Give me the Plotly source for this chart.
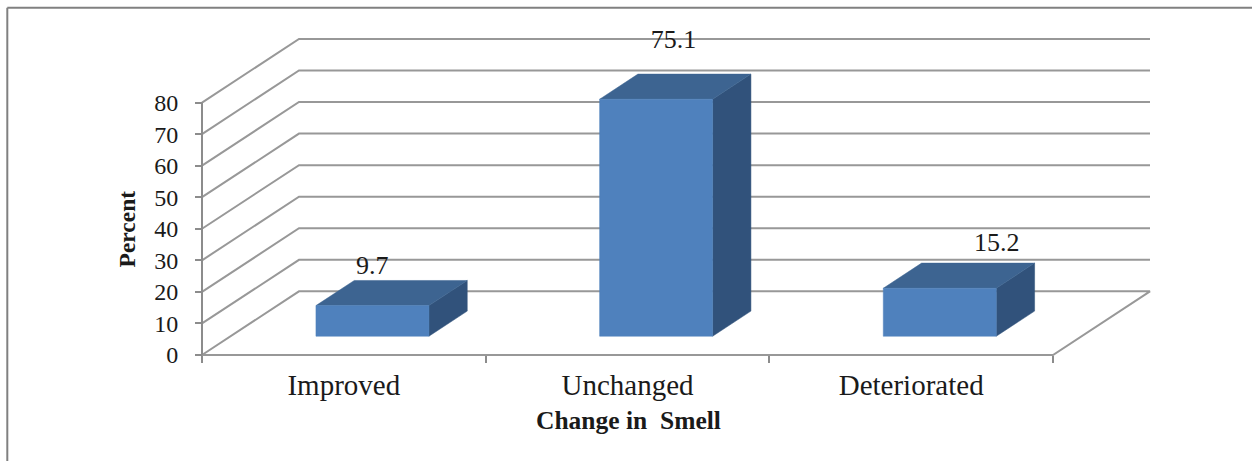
import plotly.graph_objects as go

# Data
CATEGORIES = ["Improved", "Unchanged", "Deteriorated"]
PERCENT = [9.7, 75.1, 15.2]
VALUE_LABELS = ["9.7", "75.1", "15.2"]
Y_TICKS = [0, 10, 20, 30, 40, 50, 60, 70, 80]
X_BOUNDARIES = [-0.5, 0.5, 1.5, 2.5]
X_TITLE = "Change in  Smell"
Y_TITLE = "Percent"

# Geometry of the pseudo-3D frame (layout, not data)
W, H = 1252, 461
AX_LEFT, AX_RIGHT = 201.7, 1052.7     # front floor edge, px
Y0_PX, Y80_PX = 354.6, 102.7          # value axis, px
DEPTH_PX = (97.0, 63.5)
PAD = 4.0
X_SCALE = (AX_RIGHT - AX_LEFT) / 3.0
Y_SCALE = (Y0_PX - Y80_PX) / 80.0
DX = DEPTH_PX[0] / X_SCALE
DY = DEPTH_PX[1] / Y_SCALE
BAR_W = 113.0 / X_SCALE
BAR_FRONT, BAR_BACK = 0.295, 0.69
LABEL_DX = [0.10, 0.162, 0.302]
LABEL_DY = [17.9, 24.3, 19.7]

GRID = "#989898"
AXIS = "#8c8c8c"
FRONT, TOP, SIDE = "#4F81BD", "#3D6491", "#31527B"
SERIF = "Liberation Serif, Times New Roman, serif"
TEXT = "#1a1a1a"

plot_l, plot_r = AX_LEFT - PAD, AX_RIGHT + DEPTH_PX[0] + PAD
plot_t, plot_b = 38.3 - PAD, Y0_PX + PAD
pw, ph = plot_r - plot_l, plot_b - plot_t


def project(x, y, depth):
    return x + depth * DX, y + depth * DY


def line(xs, ys, color=GRID, width=2.0):
    return go.Scatter(x=xs, y=ys, mode="lines", hoverinfo="skip", showlegend=False,
                      line=dict(color=color, width=width))


def face(points, color):
    xs = [p[0] for p in points] + [points[0][0]]
    ys = [p[1] for p in points] + [points[0][1]]
    return go.Scatter(x=xs, y=ys, mode="lines", fill="toself", fillcolor=color,
                      line=dict(color=color, width=0.5), hoverinfo="skip", showlegend=False)


fig = go.Figure()
x_lo, x_hi = X_BOUNDARIES[0], X_BOUNDARIES[-1]

# walls: gridlines from the front-left edge to the back, and along the back
for t in Y_TICKS[1:]:
    bx, by = project(x_lo, t, 1)
    ex, ey = project(x_hi, t, 1)
    fig.add_trace(line([x_lo, bx, ex], [t, by, ey]))

# floor
p1 = project(x_lo, 0, 1)
p2 = project(x_hi, 0, 1)
fig.add_trace(line([x_lo, p1[0], p2[0], x_hi, x_lo], [0, p1[1], p2[1], 0, 0]))
# value axis line
fig.add_trace(line([x_lo, x_lo], [Y_TICKS[0], Y_TICKS[-1]], color=AXIS))

# bars
for i, v in enumerate(PERCENT):
    a, b = i - BAR_W / 2, i + BAR_W / 2
    P = project
    fig.add_trace(face([P(b, 0, BAR_FRONT), P(b, 0, BAR_BACK), P(b, v, BAR_BACK), P(b, v, BAR_FRONT)], SIDE))
    fig.add_trace(face([P(a, v, BAR_FRONT), P(a, v, BAR_BACK), P(b, v, BAR_BACK), P(b, v, BAR_FRONT)], TOP))
    fig.add_trace(face([P(a, 0, BAR_FRONT), P(b, 0, BAR_FRONT), P(b, v, BAR_FRONT), P(a, v, BAR_FRONT)], FRONT))

# value labels
fig.add_trace(go.Scatter(
    x=[i + dx for i, dx in enumerate(LABEL_DX)],
    y=[v + dy for v, dy in zip(PERCENT, LABEL_DY)],
    mode="text", text=VALUE_LABELS, textposition="middle center",
    textfont=dict(family=SERIF, size=26, color=TEXT),
    hoverinfo="skip", showlegend=False, cliponaxis=False))

fig.update_layout(
    width=W, height=H, autosize=False,
    margin=dict(l=plot_l, r=W - plot_r, t=plot_t, b=H - plot_b, pad=0),
    paper_bgcolor="white", plot_bgcolor="white", showlegend=False,
    xaxis=dict(
        range=[x_lo - PAD / X_SCALE, x_hi + (DEPTH_PX[0] + PAD) / X_SCALE],
        domain=[0, 1], anchor="free", position=PAD / ph,
        tickmode="array", tickvals=[0, 1, 2], ticktext=CATEGORIES,
        ticks="outside", ticklen=4, tickcolor="rgba(0,0,0,0)",
        tickfont=dict(family=SERIF, size=29, color=TEXT),
        showgrid=False, zeroline=False, showline=False,
        minor=dict(tickmode="array", tickvals=X_BOUNDARIES, ticks="outside",
                   ticklen=7, tickwidth=2, tickcolor=AXIS, showgrid=False),
    ),
    yaxis=dict(
        range=[-PAD / Y_SCALE, (Y0_PX - plot_t) / Y_SCALE],
        domain=[0, 1], anchor="free", position=PAD / pw,
        tickmode="array", tickvals=Y_TICKS, ticktext=[str(t) for t in Y_TICKS],
        ticks="outside", ticklen=7, tickwidth=2, tickcolor=AXIS, ticklabelstandoff=12,
        tickfont=dict(family=SERIF, size=24, color=TEXT),
        showgrid=False, zeroline=False, showline=False,
    ),
    annotations=[
        dict(text="<b>%s</b>" % X_TITLE, xref="paper", yref="paper",
             x=(628 - plot_l) / pw, y=(plot_b - 420) / ph, showarrow=False,
             xanchor="center", yanchor="middle",
             font=dict(family=SERIF, size=25.5, color=TEXT)),
        dict(text="<b>%s</b>" % Y_TITLE, xref="paper", yref="paper", textangle=-90,
             x=(127 - plot_l) / pw, y=(plot_b - 229) / ph, showarrow=False,
             xanchor="center", yanchor="middle",
             font=dict(family=SERIF, size=23.5, color=TEXT)),
    ],
    shapes=[
        dict(type="line", xref="paper", yref="paper", layer="below",
             x0=(7 - plot_l) / pw, x1=(7 - plot_l) / pw,
             y0=(plot_b - 8) / ph, y1=(plot_b - 461) / ph,
             line=dict(color="#808080", width=2)),
        dict(type="line", xref="paper", yref="paper", layer="below",
             x0=(7 - plot_l) / pw, x1=(1252 - plot_l) / pw,
             y0=(plot_b - 8) / ph, y1=(plot_b - 8) / ph,
             line=dict(color="#808080", width=2)),
    ],
)

fig.write_html("out.html", config={"displayModeBar": False},
               post_script="document.body.style.margin='0';document.body.style.overflow='hidden';")
